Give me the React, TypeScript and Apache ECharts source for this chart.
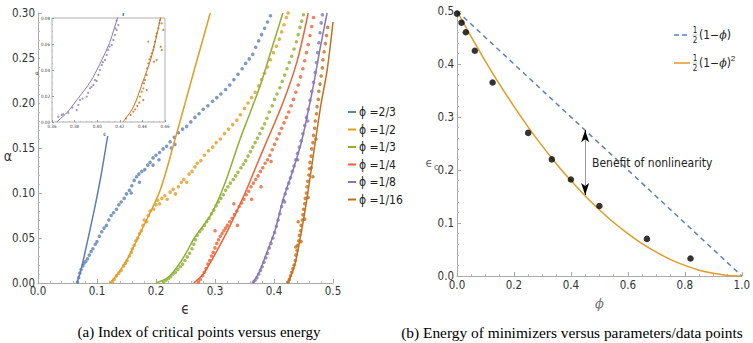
import React, { useEffect, useRef } from "react";
import * as echarts from "echarts";

// ---------- Panel (a) data ----------
const phiLabels = ["ϕ =2/3", "ϕ =1/2", "ϕ =1/3", "ϕ =1/4", "ϕ =1/8", "ϕ =1/16"];
const seriesColors = ["#5E81B5", "#E19C24", "#8FB032", "#EB6235", "#8778B3", "#C56E1A"];

const curve23 = [[0.066, 0], [0.073, 0.015], [0.08, 0.035], [0.095, 0.08], [0.107, 0.12], [0.117, 0.159], [0.127, 0.2], [0.136, 0.25], [0.145, 0.3]];
const curve12 = [[0.122, 0], [0.135, 0.01], [0.151, 0.026], [0.178, 0.062], [0.207, 0.103], [0.232, 0.159], [0.262, 0.23], [0.292, 0.3]];
const curve13 = [[0.2, 0], [0.22, 0.006], [0.236, 0.018], [0.25, 0.032], [0.265, 0.05], [0.295, 0.078], [0.317, 0.111], [0.342, 0.159], [0.36, 0.19], [0.378, 0.222], [0.396, 0.26], [0.415, 0.3]];
const curve14 = [[0.264, 0], [0.28, 0.01], [0.295, 0.026], [0.322, 0.059], [0.351, 0.1], [0.37, 0.13], [0.388, 0.158], [0.415, 0.2], [0.439, 0.246], [0.458, 0.3]];
const curve18 = [[0.364, 0], [0.375, 0.012], [0.385, 0.029], [0.402, 0.059], [0.415, 0.092], [0.432, 0.125], [0.447, 0.158], [0.466, 0.217], [0.478, 0.26], [0.49, 0.3]];
const curve116 = [[0.423, 0], [0.43, 0.01], [0.436, 0.022], [0.447, 0.059], [0.458, 0.103], [0.47, 0.157], [0.48, 0.2], [0.49, 0.236], [0.5, 0.29]];

const dots23 = [[0.067, 0.001], [0.069, 0.006], [0.071, 0.011], [0.073, 0.015], [0.076, 0.019], [0.078, 0.022], [0.081, 0.024], [0.084, 0.027], [0.087, 0.031], [0.09, 0.035], [0.093, 0.038], [0.097, 0.043], [0.1, 0.046], [0.104, 0.052], [0.108, 0.057], [0.112, 0.061], [0.116, 0.064], [0.12, 0.07], [0.124, 0.075], [0.128, 0.078], [0.133, 0.082], [0.137, 0.087], [0.141, 0.09], [0.146, 0.094], [0.15, 0.099], [0.155, 0.103], [0.158, 0.1], [0.159, 0.108], [0.163, 0.114], [0.167, 0.118], [0.171, 0.121], [0.172, 0.112], [0.176, 0.124], [0.181, 0.126], [0.186, 0.131], [0.19, 0.134], [0.195, 0.131], [0.195, 0.139], [0.2, 0.142], [0.205, 0.137], [0.206, 0.145], [0.212, 0.149], [0.218, 0.152], [0.224, 0.157], [0.226, 0.15], [0.231, 0.162], [0.232, 0.154], [0.238, 0.167], [0.245, 0.171], [0.252, 0.174], [0.259, 0.179], [0.266, 0.184], [0.273, 0.188], [0.28, 0.193], [0.288, 0.197], [0.296, 0.202], [0.303, 0.206], [0.31, 0.21], [0.318, 0.215], [0.325, 0.22], [0.332, 0.226], [0.339, 0.232], [0.346, 0.238], [0.352, 0.244], [0.358, 0.249], [0.364, 0.254], [0.369, 0.262], [0.374, 0.269], [0.379, 0.276], [0.384, 0.283], [0.389, 0.29], [0.394, 0.297]];
const dots12 = [[0.126, 0.001], [0.129, 0.004], [0.133, 0.008], [0.137, 0.011], [0.141, 0.014], [0.145, 0.019], [0.148, 0.022], [0.151, 0.025], [0.155, 0.03], [0.158, 0.034], [0.16, 0.038], [0.163, 0.042], [0.166, 0.047], [0.169, 0.05], [0.172, 0.055], [0.175, 0.058], [0.178, 0.064], [0.18, 0.07], [0.184, 0.068], [0.187, 0.075], [0.19, 0.08], [0.196, 0.082], [0.2, 0.087], [0.203, 0.092], [0.206, 0.088], [0.21, 0.094], [0.215, 0.097], [0.219, 0.093], [0.224, 0.101], [0.229, 0.104], [0.233, 0.099], [0.238, 0.107], [0.243, 0.112], [0.247, 0.115], [0.252, 0.112], [0.256, 0.121], [0.261, 0.124], [0.266, 0.129], [0.27, 0.133], [0.276, 0.136], [0.282, 0.142], [0.289, 0.147], [0.296, 0.151], [0.302, 0.156], [0.309, 0.16], [0.316, 0.166], [0.323, 0.171], [0.33, 0.176], [0.337, 0.181], [0.343, 0.187], [0.35, 0.194], [0.356, 0.2], [0.362, 0.206], [0.368, 0.212], [0.374, 0.219], [0.379, 0.226], [0.384, 0.233], [0.389, 0.24], [0.394, 0.248], [0.399, 0.256], [0.404, 0.263], [0.409, 0.271], [0.413, 0.279], [0.417, 0.287], [0.421, 0.295], [0.424, 0.3]];
const dots13 = [[0.213, 0.001], [0.217, 0.003], [0.221, 0.005], [0.225, 0.007], [0.229, 0.01], [0.233, 0.012], [0.237, 0.015], [0.241, 0.018], [0.245, 0.021], [0.249, 0.025], [0.253, 0.029], [0.257, 0.033], [0.261, 0.038], [0.264, 0.043], [0.267, 0.048], [0.27, 0.053], [0.274, 0.057], [0.278, 0.06], [0.282, 0.064], [0.286, 0.068], [0.29, 0.072], [0.294, 0.077], [0.298, 0.081], [0.302, 0.086], [0.306, 0.09], [0.31, 0.094], [0.314, 0.098], [0.318, 0.103], [0.322, 0.107], [0.326, 0.111], [0.331, 0.115], [0.335, 0.119], [0.339, 0.123], [0.344, 0.128], [0.348, 0.132], [0.352, 0.136], [0.356, 0.141], [0.36, 0.146], [0.364, 0.151], [0.368, 0.156], [0.372, 0.161], [0.376, 0.166], [0.38, 0.172], [0.384, 0.177], [0.388, 0.183], [0.392, 0.19], [0.397, 0.197], [0.401, 0.204], [0.405, 0.21], [0.41, 0.217], [0.414, 0.224], [0.418, 0.231], [0.422, 0.238], [0.426, 0.245], [0.43, 0.252], [0.434, 0.26], [0.438, 0.268], [0.441, 0.276], [0.444, 0.284], [0.447, 0.291], [0.45, 0.298]];
const dots14 = [[0.272, 0.001], [0.275, 0.004], [0.279, 0.008], [0.282, 0.012], [0.285, 0.016], [0.288, 0.021], [0.291, 0.025], [0.294, 0.03], [0.297, 0.034], [0.3, 0.039], [0.3, 0.058], [0.303, 0.044], [0.306, 0.048], [0.309, 0.052], [0.312, 0.055], [0.315, 0.058], [0.318, 0.061], [0.321, 0.064], [0.325, 0.068], [0.329, 0.072], [0.332, 0.088], [0.333, 0.076], [0.337, 0.08], [0.338, 0.064], [0.341, 0.085], [0.345, 0.089], [0.349, 0.093], [0.353, 0.098], [0.357, 0.102], [0.361, 0.107], [0.362, 0.093], [0.365, 0.111], [0.369, 0.115], [0.373, 0.119], [0.377, 0.124], [0.378, 0.107], [0.381, 0.128], [0.385, 0.133], [0.389, 0.137], [0.393, 0.142], [0.395, 0.135], [0.397, 0.148], [0.401, 0.154], [0.405, 0.16], [0.409, 0.166], [0.413, 0.172], [0.417, 0.178], [0.421, 0.184], [0.425, 0.19], [0.429, 0.197], [0.433, 0.204], [0.437, 0.212], [0.441, 0.22], [0.445, 0.229], [0.449, 0.238], [0.452, 0.247], [0.455, 0.256], [0.458, 0.265], [0.461, 0.275], [0.464, 0.285], [0.467, 0.295]];
const dots18 = [[0.365, 0.001], [0.368, 0.003], [0.371, 0.006], [0.374, 0.01], [0.377, 0.014], [0.38, 0.018], [0.383, 0.023], [0.386, 0.028], [0.389, 0.033], [0.392, 0.039], [0.395, 0.044], [0.398, 0.05], [0.401, 0.056], [0.404, 0.063], [0.407, 0.07], [0.41, 0.077], [0.413, 0.085], [0.416, 0.092], [0.418, 0.09], [0.419, 0.099], [0.422, 0.105], [0.425, 0.111], [0.428, 0.117], [0.431, 0.124], [0.434, 0.13], [0.437, 0.137], [0.44, 0.137], [0.44, 0.144], [0.443, 0.151], [0.446, 0.158], [0.449, 0.166], [0.452, 0.175], [0.455, 0.184], [0.457, 0.18], [0.458, 0.193], [0.461, 0.203], [0.464, 0.213], [0.467, 0.223], [0.47, 0.234], [0.472, 0.245], [0.474, 0.256], [0.476, 0.267], [0.478, 0.278], [0.48, 0.289], [0.482, 0.298]];
const dots116 = [[0.424, 0.001], [0.426, 0.004], [0.428, 0.008], [0.43, 0.012], [0.432, 0.016], [0.434, 0.02], [0.436, 0.025], [0.437, 0.031], [0.437, 0.04], [0.439, 0.036], [0.44, 0.042], [0.441, 0.068], [0.442, 0.047], [0.443, 0.053], [0.445, 0.058], [0.446, 0.046], [0.446, 0.064], [0.448, 0.07], [0.449, 0.076], [0.45, 0.082], [0.452, 0.071], [0.452, 0.088], [0.453, 0.094], [0.455, 0.1], [0.456, 0.107], [0.457, 0.113], [0.458, 0.095], [0.459, 0.12], [0.46, 0.127], [0.461, 0.134], [0.463, 0.128], [0.463, 0.141], [0.464, 0.149], [0.466, 0.118], [0.466, 0.156], [0.467, 0.164], [0.469, 0.172], [0.471, 0.16], [0.47, 0.18], [0.472, 0.188], [0.473, 0.196], [0.475, 0.204], [0.476, 0.213], [0.478, 0.221], [0.48, 0.23], [0.482, 0.239], [0.483, 0.248], [0.485, 0.257], [0.487, 0.266], [0.489, 0.275], [0.491, 0.284]];

// inset (zoom of phi = 1/8 and 1/16)
const insetCurve18 = [[0.364, 0], [0.373, 0.007], [0.382, 0.017], [0.394, 0.031], [0.402, 0.044], [0.411, 0.061], [0.418, 0.08], [0.425, 0.095]];
const insetCurve116 = [[0.4228, 0], [0.432, 0.0115], [0.44, 0.03], [0.448, 0.05], [0.4556, 0.078], [0.458, 0.088]];
const insetDots18 = [[0.3656, 0.004], [0.3686, 0.0054], [0.37, 0.006], [0.3744, 0.0072], [0.378, 0.011], [0.3818, 0.0092], [0.3833, 0.0131], [0.3848, 0.0169], [0.387, 0.018], [0.3907, 0.0195], [0.392, 0.0225], [0.3936, 0.0259], [0.395, 0.027], [0.3966, 0.0285], [0.398, 0.0323], [0.3995, 0.0315], [0.401, 0.0362], [0.4025, 0.04], [0.404, 0.0438], [0.405, 0.046], [0.4069, 0.0477], [0.4084, 0.0515], [0.4098, 0.0554], [0.411, 0.058], [0.4128, 0.0592], [0.4143, 0.0631], [0.4158, 0.0669], [0.416, 0.072], [0.4172, 0.0708], [0.4187, 0.0746], [0.4172, 0.078]];
const insetDots116 = [[0.4255, 0.0028], [0.4296, 0.0054], [0.432, 0.0079], [0.4335, 0.0097], [0.4355, 0.0123], [0.4373, 0.0149], [0.4379, 0.0195], [0.4394, 0.0233], [0.4408, 0.0259], [0.4408, 0.0169], [0.4414, 0.0297], [0.4423, 0.0323], [0.4438, 0.0246], [0.4438, 0.0362], [0.4443, 0.0413], [0.4452, 0.0451], [0.4452, 0.0618], [0.4461, 0.0482], [0.4473, 0.0503], [0.4482, 0.0528], [0.4497, 0.0554], [0.4503, 0.0579], [0.4503, 0.0464], [0.4512, 0.0618], [0.452, 0.0656], [0.4526, 0.0682], [0.4526, 0.0477], [0.4541, 0.0721], [0.455, 0.0759], [0.4556, 0.0785], [0.4562, 0.0579], [0.4571, 0.0759], [0.4571, 0.0554], [0.4585, 0.0708]];

// ---------- Panel (b) data ----------
const linearBound = [[0, 0.5], [1, 0]];
const quadPhi = [0, 0.05, 0.1, 0.15, 0.2, 0.25, 0.3, 0.35, 0.4, 0.45, 0.5, 0.55, 0.6, 0.65, 0.7, 0.75, 0.8, 0.85, 0.9, 0.95, 1];
const quadEps = [0.5, 0.451, 0.405, 0.361, 0.32, 0.281, 0.245, 0.211, 0.18, 0.151, 0.125, 0.101, 0.08, 0.061, 0.045, 0.031, 0.02, 0.011, 0.005, 0.001, 0];
const pointPhi = [0, 0.016, 0.031, 0.0625, 0.125, 0.25, 0.333, 0.4, 0.5, 0.667, 0.82];
const pointEps = [0.495, 0.478, 0.46, 0.425, 0.365, 0.27, 0.22, 0.182, 0.132, 0.07, 0.033];
const arrowPhi = 0.45;
const arrowTop = 0.275;
const arrowBottom = 0.153;

const NARROW = "'Liberation Sans Narrow', 'DejaVu Sans Condensed', 'Liberation Sans', sans-serif";
const SERIF = "'Liberation Serif', 'DejaVu Serif', serif";

const txt = (x: number, y: number, text: string, font: string, fill: string, align = "left", extra: any = {}) => ({
  type: "text", x, y, z: extra.z ?? 70,
  style: { text, font, fill, align, verticalAlign: "middle", textAlign: align, textVerticalAlign: "middle", ...(extra.style || {}) },
});

export default function App() {
  const ref = useRef<HTMLDivElement>(null);
  useEffect(() => {
    if (!ref.current) return;
    const chart = echarts.init(ref.current, null, { renderer: "svg" });
    const axisLine = { show: true, lineStyle: { color: "#aaa", width: 1 } };
    const tick = { show: true, inside: true, length: 4, lineStyle: { color: "#aaa" } };
    const minor = (n: number, len = 2) => ({ show: true, splitNumber: n, length: len, lineStyle: { color: "#bbb" } });
    const lbl = (dec: number, size = 12, margin = 3) => ({
      fontFamily: NARROW, fontSize: size, color: "#333", margin,
      formatter: (v: number) => v.toFixed(dec),
    });
    const curves = [curve23, curve12, curve13, curve14, curve18, curve116];
    const dots = [dots23, dots12, dots13, dots14, dots18, dots116];
    const series: any[] = [];
    curves.forEach((c, i) => {
      series.push({
        name: phiLabels[i], type: "line", xAxisIndex: 0, yAxisIndex: 0, data: c,
        showSymbol: false, smooth: 0.3, lineStyle: { color: seriesColors[i], width: 1.5 },
        itemStyle: { color: seriesColors[i] }, z: 3,
      });
    });
    dots.forEach((d, i) => {
      series.push({
        name: "data" + i, type: "scatter", xAxisIndex: 0, yAxisIndex: 0, data: d,
        symbolSize: 3.6, itemStyle: { color: seriesColors[i] }, z: 2,
      });
    });
    series.push(
      { name: "in1", type: "line", xAxisIndex: 2, yAxisIndex: 2, data: insetCurve18, showSymbol: false, smooth: 0.3, lineStyle: { color: seriesColors[4], width: 1 }, z: 61 },
      { name: "in2", type: "line", xAxisIndex: 2, yAxisIndex: 2, data: insetCurve116, showSymbol: false, smooth: 0.3, lineStyle: { color: seriesColors[5], width: 1 }, z: 61 },
      { name: "in3", type: "scatter", xAxisIndex: 2, yAxisIndex: 2, data: insetDots18, symbolSize: 2.2, itemStyle: { color: seriesColors[4] }, z: 60 },
      { name: "in4", type: "scatter", xAxisIndex: 2, yAxisIndex: 2, data: insetDots116, symbolSize: 2.2, itemStyle: { color: seriesColors[5] }, z: 60 },
    );
    series.push(
      {
        name: "lin", type: "line", xAxisIndex: 1, yAxisIndex: 1, data: linearBound, showSymbol: false,
        lineStyle: { color: "#5E81B5", width: 1.5, type: [5, 4] },
        markLine: {
          silent: true, symbol: ["none", "none"], label: { show: false },
          lineStyle: { color: "#999", width: 1, type: "solid" },
          data: [[{ coord: [arrowPhi, arrowTop] }, { coord: [arrowPhi, arrowBottom] }]],
        },
      },
      {
        name: "quad", type: "line", xAxisIndex: 1, yAxisIndex: 1,
        data: quadPhi.map((p, i) => [p, quadEps[i]]), showSymbol: false, smooth: 0.3,
        lineStyle: { color: "#E19C24", width: 1.5 },
        markLine: {
          silent: true, symbol: ["none", "arrow"], symbolSize: [6, 12], label: { show: false },
          lineStyle: { color: "#000", width: 1, type: "solid" },
          data: [
            [{ coord: [arrowPhi, arrowTop - 0.012] }, { coord: [arrowPhi, arrowTop] }],
            [{ coord: [arrowPhi, arrowBottom + 0.012] }, { coord: [arrowPhi, arrowBottom] }],
          ],
        },
      },
      {
        name: "pts", type: "scatter", xAxisIndex: 1, yAxisIndex: 1,
        data: pointPhi.map((p, i) => [p, pointEps[i]]), symbolSize: 6.5, itemStyle: { color: "#000" }, z: 5,
      },
    );

    const richPhi = { i: { fontFamily: "'DejaVu Serif', serif", fontStyle: "italic", fontSize: 11 }, s: { fontSize: 8, verticalAlign: "top", lineHeight: 18 } };
    const option: any = {
      animation: false,
      grid: [
        { left: 38, top: 13, width: 295, height: 270 },
        { left: 457, top: 11, width: 288, height: 265 },
        { left: 52, top: 18, width: 113, height: 104, show: true, borderColor: "#999", borderWidth: 0.8, backgroundColor: "transparent", z: 58 },
      ],
      xAxis: [
        {
          gridIndex: 0, type: "value", min: 0, max: 0.5, interval: 0.1, axisLine, axisTick: tick, minorTick: minor(5),
          splitLine: { show: false }, axisLabel: lbl(1, 11.5, 2),
          name: "ϵ", nameLocation: "middle", nameGap: 17, nameTextStyle: { fontFamily: NARROW, fontSize: 15, color: "#333" },
        },
        {
          gridIndex: 1, type: "value", min: 0, max: 1, interval: 0.2, axisLine, axisTick: tick, minorTick: minor(4),
          splitLine: { show: false }, axisLabel: lbl(1, 11.5, 3),
          name: "ϕ", nameLocation: "middle", nameGap: 21, nameTextStyle: { fontFamily: "'DejaVu Serif', serif", fontStyle: "italic", fontSize: 13, color: "#777" },
        },
        {
          gridIndex: 2, type: "value", min: 0.36, max: 0.46, interval: 0.02, axisLine: { show: false }, z: 60,
          axisTick: { show: true, inside: true, length: 2, lineStyle: { color: "#999" } }, minorTick: minor(4, 1),
          splitLine: { show: false }, axisLabel: { ...lbl(2, 4.5, 2), color: "#444" },
        },
      ],
      yAxis: [
        {
          gridIndex: 0, type: "value", min: 0, max: 0.3, interval: 0.05, axisLine, axisTick: tick, minorTick: minor(5),
          splitLine: { show: false }, axisLabel: lbl(2, 11.5, 3),
        },
        {
          gridIndex: 1, type: "value", min: 0, max: 0.5, interval: 0.1, axisLine, axisTick: tick, minorTick: minor(5),
          splitLine: { show: false }, axisLabel: lbl(1, 11.5, 3),
        },
        {
          gridIndex: 2, type: "value", min: 0, max: 0.08, interval: 0.02, axisLine: { show: false }, z: 60,
          axisTick: { show: true, inside: true, length: 2, lineStyle: { color: "#999" } }, minorTick: minor(4, 1),
          splitLine: { show: false }, axisLabel: { ...lbl(2, 4.5, 2), color: "#444" },
        },
      ],
      legend: {
        data: phiLabels, orient: "vertical", left: 343, top: 101, itemGap: 5.5,
        itemWidth: 8, itemHeight: 2, icon: "rect",
        textStyle: { fontFamily: NARROW, fontSize: 12, lineHeight: 12, color: "#222", padding: [0, 0, 0, -2] },
      },
      graphic: [
        { type: "rect", shape: { x: 40, y: 16, width: 127, height: 120 }, style: { fill: "#fff" }, z: 50 },
        txt(37, 72, "α", "6px " + NARROW, "#444", "center", { z: 62 }),
        txt(105, 133, "ϵ", "6px " + NARROW, "#444", "center", { z: 62 }),
        txt(8, 156, "α", "14px " + NARROW, "#333", "center"),
        { type: "line", shape: { x1: 674, y1: 35, x2: 690, y2: 35 }, style: { stroke: "#5E81B5", lineWidth: 1.5, lineDash: [5, 3] } },
        txt(695, 30, "1", "8px " + NARROW, "#222", "center"),
        { type: "line", shape: { x1: 692.5, y1: 35, x2: 697.5, y2: 35 }, style: { stroke: "#888", lineWidth: 0.5 } },
        txt(695, 40, "2", "8px " + NARROW, "#222", "center"),
        txt(699, 35, "(1−{i|ϕ})", "12px " + NARROW, "#222", "left", { style: { rich: richPhi } }),
        { type: "line", shape: { x1: 674, y1: 63, x2: 690, y2: 63 }, style: { stroke: "#E19C24", lineWidth: 1.5 } },
        txt(695, 58, "1", "8px " + NARROW, "#222", "center"),
        { type: "line", shape: { x1: 692.5, y1: 63, x2: 697.5, y2: 63 }, style: { stroke: "#888", lineWidth: 0.5 } },
        txt(695, 68, "2", "8px " + NARROW, "#222", "center"),
        txt(699, 63, "(1−{i|ϕ}){s|2}", "12px " + NARROW, "#222", "left", { style: { rich: richPhi } }),
        txt(592, 163, "Benefit of nonlinearity", "12px " + NARROW, "#222"),
        txt(429, 162, "ϵ", "13px " + NARROW, "#666", "center"),
        txt(434, 167, "c", "9px " + NARROW, "#666", "left"),
        txt(199, 332, "(a) Index of critical points versus energy", "15px " + SERIF, "#000", "center"),
        txt(572, 332, "(b) Energy of minimizers versus parameters/data points", "15.4px " + SERIF, "#000", "center"),
      ],
      series,
    };
    chart.setOption(option);
    return () => chart.dispose();
  }, []);
  return <div ref={ref} style={{ width: 753, height: 343, position: "absolute", left: 0, top: 0 }} />;
}
